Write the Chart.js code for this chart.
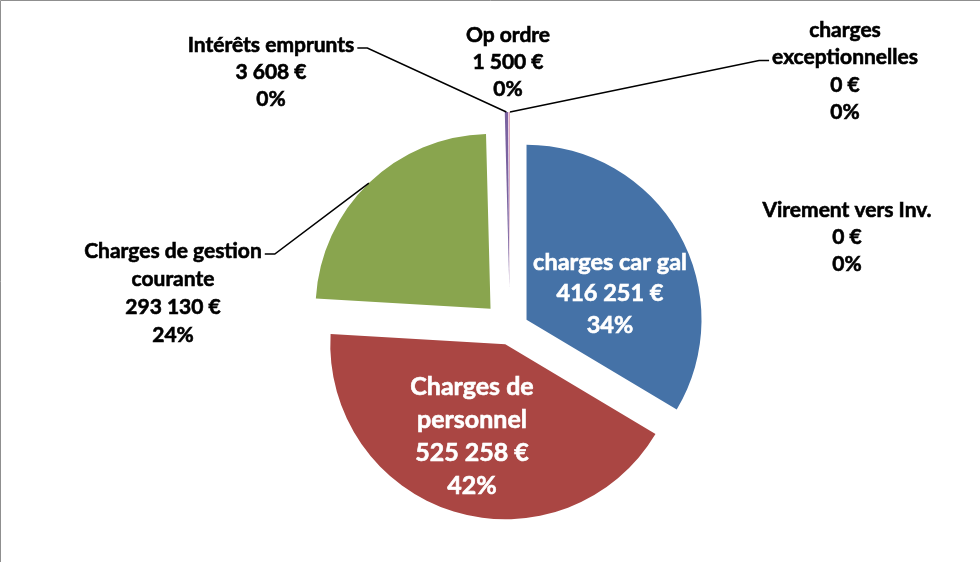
<!DOCTYPE html>
<html>
<head>
<meta charset="utf-8">
<script src="https://cdn.jsdelivr.net/npm/chart.js@4/dist/chart.umd.min.js"></script>
<style>
  html, body { margin: 0; padding: 0; background: #fff; }
  canvas { display: block; }
</style>
</head>
<body>
<canvas id="pie-canvas" width="980" height="562"></canvas>
<script>
// data
const CATEGORIES = ['charges car gal', 'Charges de personnel', 'Charges de gestion courante',
    'Intérêts emprunts', 'Op ordre', 'charges exceptionnelles', 'Virement vers Inv.'];
const VALUES = [416251, 525258, 293130, 3608, 1500, 0, 0];

// styling
const COLORS = ['#4572A7', '#AA4643', '#89A54E', '#7A62A0', '#D79BB8', '#4198AF', '#DB843D'];
const EXPLODE = [19, 16, 28, 42, 42, 42, 42];   // px, per slice

// label placement (centre x, first line y, line height, wrap width)
const LABEL_LAYOUT = [
    { x: 610, y: 262, lh: 31.5, size: 23.5, color: '#fff', maxWidth: 175 },
    { x: 472, y: 387, lh: 33, size: 25, color: '#fff', maxWidth: 150 },
    { x: 173, y: 251, lh: 28, size: 21, color: '#000', maxWidth: 195, leader: { line: 0, side: 'right' } },
    { x: 271, y: 45, lh: 27, size: 21, color: '#000', maxWidth: 195, leader: { line: 0, side: 'right' } },
    { x: 508, y: 35, lh: 27, size: 21, color: '#000', maxWidth: 195 },
    { x: 845, y: 30, lh: 27.5, size: 21, color: '#000', maxWidth: 180, leader: { line: 1, side: 'left' } },
    { x: 847, y: 210, lh: 27, size: 21, color: '#000', maxWidth: 195 },
];

function fmtEuro(v) {
    return v.toString().replace(/\B(?=(\d{3})+(?!\d))/g, ' ') + ' €';
}

function wrap(ctx, text, maxWidth) {
    var words = text.split(' ');
    var lines = [];
    var cur = '';
    words.forEach(function (w) {
        var test = cur ? cur + ' ' + w : w;
        if (cur && ctx.measureText(test).width > maxWidth) {
            lines.push(cur);
            cur = w;
        } else {
            cur = test;
        }
    });
    if (cur) lines.push(cur);
    return lines;
}

// exploded slices: shift each arc along its bisector before drawing
const ArcEl = Chart.registry.getElement('arc');
const baseArcDraw = ArcEl.prototype.draw;
ArcEl.prototype.draw = function (ctx) {
    var d = this.explode || 0;
    var mid = (this.startAngle + this.endAngle) / 2;
    ctx.save();
    ctx.translate(Math.cos(mid) * d, Math.sin(mid) * d);
    baseArcDraw.call(this, ctx);
    ctx.restore();
};

const framePlugin = {
    id: 'frame',
    beforeDraw: function (chart) {
        var ctx = chart.ctx;
        ctx.save();
        ctx.fillStyle = '#fff';
        ctx.fillRect(0, 0, chart.width, chart.height);
        ctx.strokeStyle = '#8f8f8f';
        ctx.lineWidth = 1;
        ctx.beginPath();
        ctx.moveTo(0.5, chart.height);
        ctx.lineTo(0.5, 0.5);
        ctx.lineTo(chart.width, 0.5);
        ctx.stroke();
        ctx.restore();
    },
    beforeDatasetsDraw: function (chart) {
        chart.getDatasetMeta(0).data.forEach(function (arc, i) {
            arc.explode = EXPLODE[i];
        });
    }
};

const labelPlugin = {
    id: 'pieLabels',
    afterDraw: function (chart) {
        var ctx = chart.ctx;
        var meta = chart.getDatasetMeta(0);
        var total = VALUES.reduce(function (a, b) { return a + b; }, 0);
        meta.data.forEach(function (arc, i) {
            var L = LABEL_LAYOUT[i];
            ctx.save();
            ctx.font = 'bold ' + L.size + 'px Lato';
            ctx.textAlign = 'center';
            ctx.textBaseline = 'middle';
            ctx.fillStyle = L.color;
            ctx.strokeStyle = L.color;
            ctx.lineWidth = 0.6;
            var lines = wrap(ctx, CATEGORIES[i], L.maxWidth)
                .concat([fmtEuro(VALUES[i]), Math.round(VALUES[i] / total * 100) + '%']);
            lines.forEach(function (t, k) {
                ctx.fillText(t, L.x, L.y + k * L.lh);
                ctx.strokeText(t, L.x, L.y + k * L.lh);
            });
            if (L.leader) {
                var w = ctx.measureText(lines[L.leader.line]).width;
                var ly = L.y + L.leader.line * L.lh + 3;
                var dir = L.leader.side === 'right' ? 1 : -1;
                var sx = L.x + dir * (w / 2 + 3);
                var ex = sx + dir * 10;
                var mid = (arc.startAngle + arc.endAngle) / 2;
                var r = arc.outerRadius + EXPLODE[i];
                ctx.strokeStyle = '#000';
                ctx.lineWidth = 1.5;
                ctx.beginPath();
                ctx.moveTo(sx, ly);
                ctx.lineTo(ex, ly);
                ctx.lineTo(arc.x + Math.cos(mid) * r, arc.y + Math.sin(mid) * r);
                ctx.stroke();
            }
            ctx.restore();
        });
    }
};

new Chart(document.getElementById('pie-canvas'), {
    type: 'pie',
    data: {
        labels: CATEGORIES,
        datasets: [{
            data: VALUES,
            backgroundColor: COLORS,
            borderWidth: 0,
            offset: 0
        }]
    },
    options: {
        responsive: false,
        animation: false,
        radius: 175,
        layout: { padding: { left: 40, right: 0, top: 96, bottom: 0 } },
        plugins: {
            legend: { display: false },
            tooltip: { enabled: false }
        },
        events: []
    },
    plugins: [framePlugin, labelPlugin]
});
</script>
</body>
</html>
